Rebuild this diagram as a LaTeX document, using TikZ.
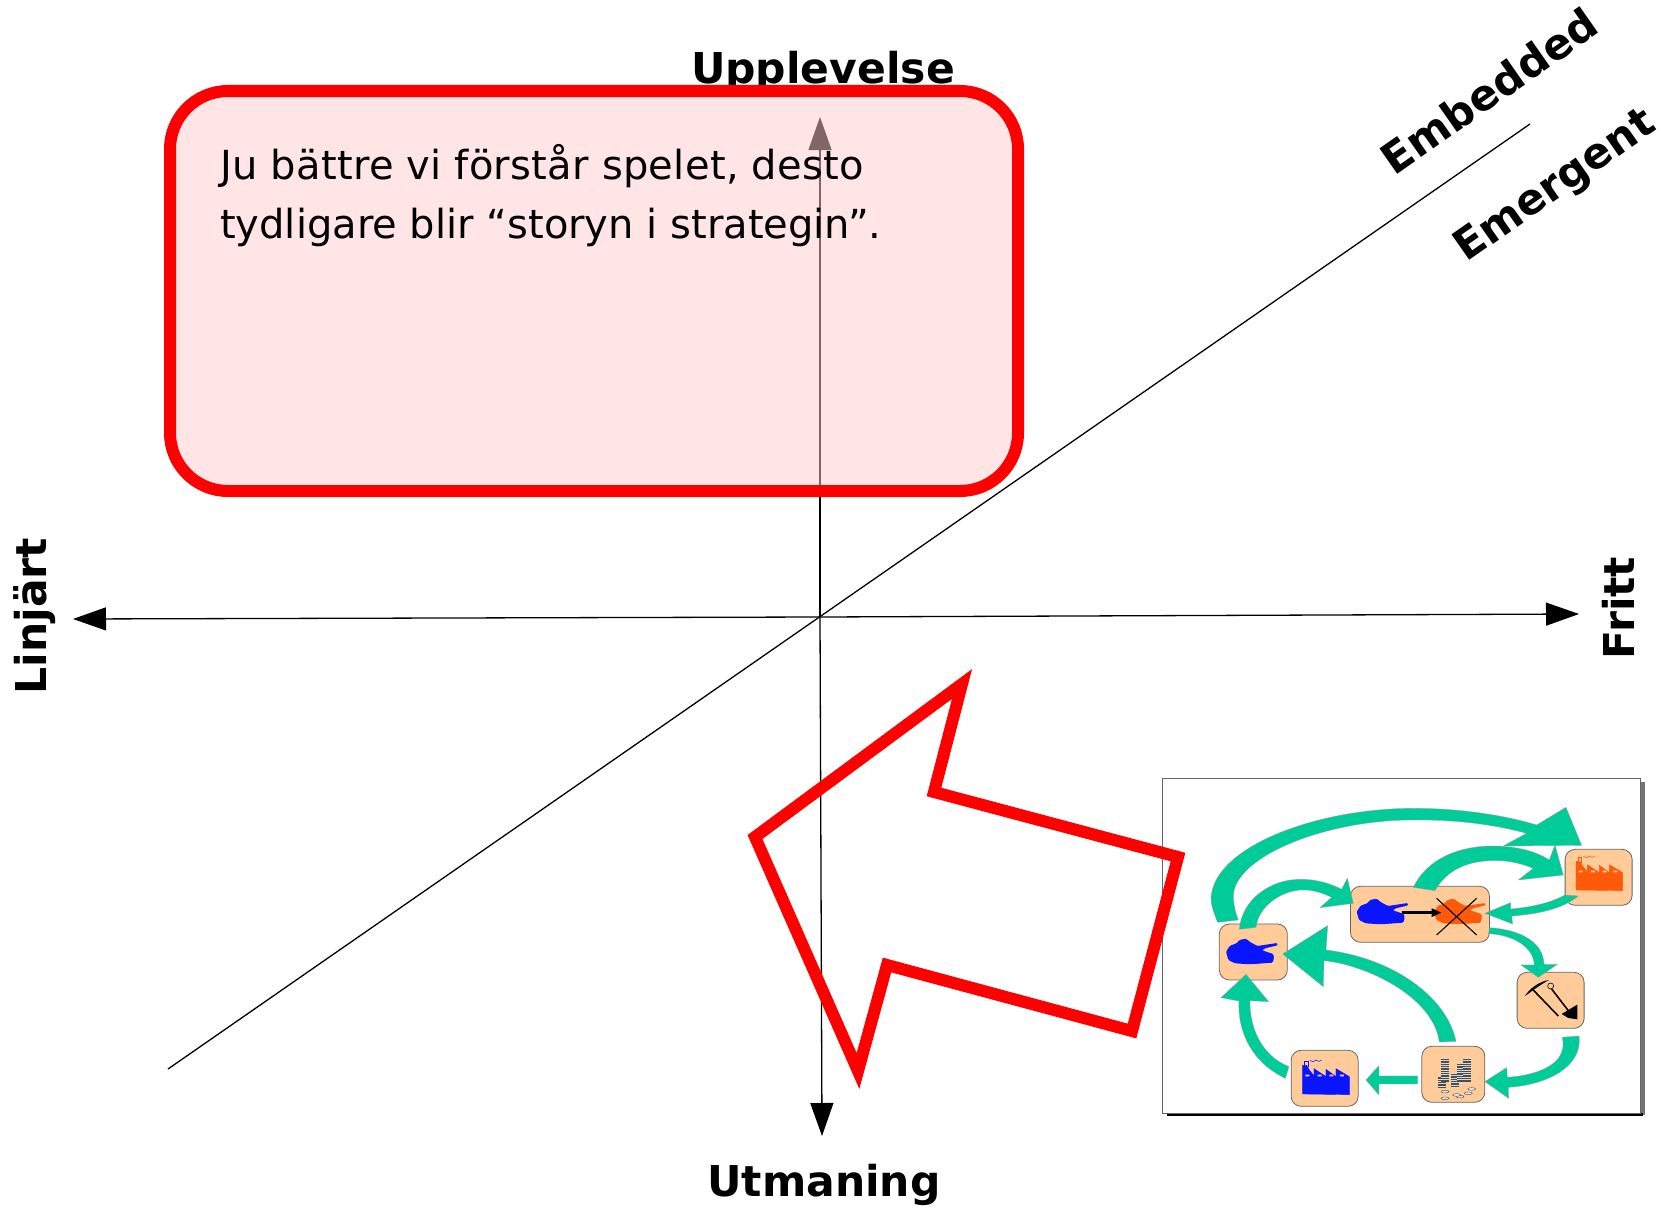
\documentclass[tikz,border=0pt]{standalone}
\usepackage{fontspec}
\setmainfont{DejaVu Sans}
\usetikzlibrary{arrows.meta}
\definecolor{tilefill}{HTML}{FFCC99}
\definecolor{flowgreen}{HTML}{00CC99}
\definecolor{tankblue}{HTML}{0A14FF}
\definecolor{tankorange}{HTML}{FF5A0A}
\tikzset{
  axislabel/.style={font=\fontsize{42.5}{46}\selectfont\bfseries,inner sep=0pt},
  bodytext/.style={font=\fontsize{40}{59}\selectfont,align=left,inner sep=0pt,text=black},
  axisline/.style={line width=1.3pt,-{Triangle[length=33pt,width=23pt]}},
  tile/.style={draw=black!60,line width=0.8pt,fill=tilefill,rounded corners=10pt},
  flow/.style={fill=flowgreen,draw=black!40,line width=0.3pt},
  tank/.pic={\fill[pic actions,rounded corners=1.2pt] (228,545)--(240,527)--(260,520)--(268,510)--(288,506)--(300,516)--(322,528)--(382,519)--(383,526)--(345,535)--(336,541)--(370,552)--(372,565)--(368,578)--(300,583)--(255,580)--(235,570)--cycle;},
  factory/.pic={
    \fill[pic actions] (458,886)--(458,972)--(598,974)--(598,920)--(558,896)--(558,920)--(528,898)--(528,920)--(492,896)--(492,918)--(478,900)--(470,886)--cycle;
    \draw[pic actions,fill=none,line width=0.5pt] (464,892)--(464,874)--(475,874)--(475,892);
    \draw[pic actions,fill=none,line width=0.5pt] (480,870) .. controls (488,877) and (492,877) .. (498,870) .. controls (503,877) and (510,875) .. (515,870);
    \fill[tilefill] (466,914) rectangle (478,919) (503,914) rectangle (515,919) (538,914) rectangle (550,919) (570,914) rectangle (582,919);
  }
}
\begin{document}
\begin{tikzpicture}[x=1pt,y=-1pt]
\useasboundingbox (0,0) rectangle (1671,1207);
% axis labels
\node[axislabel,anchor=base] (upp) at (823,84) {Upplevelse};
\node[axislabel,anchor=center] (utm) at (824,1185) {Utmaning};
\node[axislabel,anchor=center,rotate=90] (lin) at (35,616) {Linjärt};
\node[axislabel,anchor=center,rotate=90] (fri) at (1618,608) {Fritt};
\node[axislabel,anchor=center,rotate=35] (emb) at (1489,91) {Embedded};
\node[axislabel,anchor=center,rotate=35] (eme) at (1556,187) {Emergent};
% axes
\coordinate (ctr) at (820,617);
\coordinate (top) at (820,117);
\coordinate (bot) at (822,1136);
\coordinate (lft) at (73,619);
\coordinate (rgt) at (1579,614);
\coordinate (dga) at (168,1069);
\coordinate (dgb) at (1530,124);
\draw[axisline] (ctr) -- (top);
\draw[axisline] (ctr) -- (bot);
\draw[axisline] (ctr) -- (lft);
\draw[axisline] (ctr) -- (rgt);
\draw[line width=1.3pt] (dga) -- (dgb);
% text box
\draw[line width=12pt,draw=red,fill=red!20,fill opacity=0.5,rounded corners=58pt] (170,91) rectangle (1018,491);
\node[bodytext,anchor=north west] (txt) at (220,144) {{\addfontfeature{LetterSpace=0.75}Ju bättre vi förstår spelet, desto}\\tydligare blir “storyn i strategin”.};
% inset, in zoomed coordinates
\begin{scope}[shift={(1150,770)},x=0.3333pt,y=-0.3333pt]
\fill[black!55] (50,35) rectangle (1484,1036);
\fill[black] (50,1030) rectangle (1478,1037);
\draw[fill=white,draw=black!60,line width=1pt] (38,25) rectangle (1472,1030);
\node[tile,minimum width=68pt,minimum height=56pt,inner sep=0pt] (tileA) at (310,546) {};
\node[tile,minimum width=139pt,minimum height=56pt,inner sep=0pt] (tileB) at (810,433) {};
\node[tile,minimum width=67pt,minimum height=56pt,inner sep=0pt] (tileC) at (1346,322) {};
\node[tile,minimum width=67pt,minimum height=56pt,inner sep=0pt] (tileD) at (1202,691) {};
\node[tile,minimum width=63pt,minimum height=56pt,inner sep=0pt] (tileE) at (910,913) {};
\node[tile,minimum width=67pt,minimum height=56pt,inner sep=0pt] (tileF) at (524,925) {};
% icons
\pic[fill=tankblue] at (0,0) {tank};
\pic[fill=tankblue] at (392,-120) {tank};
\pic[fill=tankorange] at (624,-120) {tank};
\pic[fill=tankblue,draw=tankblue] at (0,0) {factory};
\pic[fill=tankorange,draw=tankorange] at (820,-612) {factory};
\draw[line width=3.2pt,-{Triangle[length=10pt,width=8pt]}] (755,428) -- (875,428);
\draw[line width=1.1pt] (860,385) -- (980,495) (980,385) -- (860,495);
% pick and shovel
\draw[line width=1.6pt] (1145,655) -- (1225,738);
\fill (1125,677) .. controls (1145,650) and (1170,635) .. (1197,630) .. controls (1170,645) and (1150,660) .. (1127,677) -- cycle;
\draw[line width=1.6pt] (1205,657) -- (1255,722);
\draw[line width=0.6pt] (1202,648) circle [radius=9];
\fill (1235,732) -- (1265,714) -- (1282,704) -- (1282,748) -- (1255,744) -- cycle;
% coins
\foreach \cx/\ya/\yb in {875/920/955,886/865/935,915/910/955,932/880/940,950/865/935}{
  \fill[black!70] (\cx-12,\ya) rectangle (\cx+12,\yb);
  \foreach \k in {0,1,2,3,4,5,6,7,8,9,10,11}{
    \pgfmathsetmacro{\yy}{\ya+\k*7}
    \pgfmathparse{\yy<\yb ? 1 : 0}
    \pgfmathtruncatemacro{\keep}{\pgfmathresult}
    \ifnum\keep=1 \draw[black!15,line width=0.5pt] (\cx-12,\yy) -- (\cx+12,\yy);\fi
  }
}
\foreach \cx/\cy in {885/985,930/980,955/970,965/957,885/965,920/975}{
  \draw[fill=black!10,draw=black!70,line width=0.4pt] (\cx,\cy) ellipse [x radius=12,y radius=4];
}
% flow arrows
\path[flow] (203,457) .. controls (190,425) and (183,405) .. (183,385) .. controls (190,230) and (500,115) .. (790,115) .. controls (930,115) and (1060,135) .. (1160,165) -- (1248,112) -- (1295,226) -- (1060,228) -- (1130,190) .. controls (1020,160) and (900,148) .. (780,150) .. controls (520,152) and (258,260) .. (250,375) .. controls (250,400) and (255,425) .. (265,450) -- cycle;
\path[flow] (790,352) .. controls (830,270) and (920,228) .. (1030,228) .. controls (1100,228) and (1160,245) .. (1198,270) -- (1215,225) -- (1240,315) -- (1105,330) -- (1150,295) .. controls (1100,275) and (1060,270) .. (1020,272) .. controls (950,275) and (890,300) .. (855,362) -- cycle;
\path[flow] (268,478) .. controls (275,390) and (360,328) .. (450,328) .. controls (500,328) and (540,340) .. (575,358) -- (592,325) -- (610,400) -- (510,413) -- (545,382) .. controls (510,365) and (480,358) .. (450,360) .. controls (390,365) and (325,410) .. (318,472) -- cycle;
\path[flow] (1245,375) .. controls (1200,400) and (1140,412) .. (1082,417) -- (1082,398) -- (1005,430) -- (1088,462) -- (1085,438) .. controls (1170,432) and (1240,415) .. (1285,378) -- cycle;
\path[flow] (1018,473) .. controls (1100,478) and (1180,510) .. (1182,583) -- (1222,583) -- (1165,622) -- (1113,585) -- (1153,585) .. controls (1150,530) and (1090,495) .. (1016,491) -- cycle;
\path[flow] (1237,802) -- (1287,798) .. controls (1300,890) and (1190,945) .. (1075,952) -- (1076,985) -- (1005,935) -- (1070,893) -- (1072,922) .. controls (1170,915) and (1255,880) .. (1237,802) -- cycle;
\path[flow] (868,816) -- (918,814) .. controls (890,680) and (730,565) .. (528,540) -- (533,467) -- (398,552) -- (520,650) -- (522,572) .. controls (650,585) and (850,680) .. (868,816) -- cycle;
\path[flow] (417,890) -- (406,925) .. controls (310,880) and (262,790) .. (267,693) -- (213,683) -- (288,613) -- (356,695) -- (300,692) .. controls (298,780) and (340,860) .. (417,890) -- cycle;
\path[flow] (803,918) -- (803,942) -- (687,942) -- (687,975) -- (648,930) -- (687,887) -- (687,918) -- cycle;
\end{scope}
% big red arrow
\draw[red,line width=12pt,miter limit=10] (962,684) -- (934,792) -- (1178,857) -- (1132,1031) -- (887,965) -- (858,1071) -- (755,837) -- cycle;
\end{tikzpicture}
\end{document}
